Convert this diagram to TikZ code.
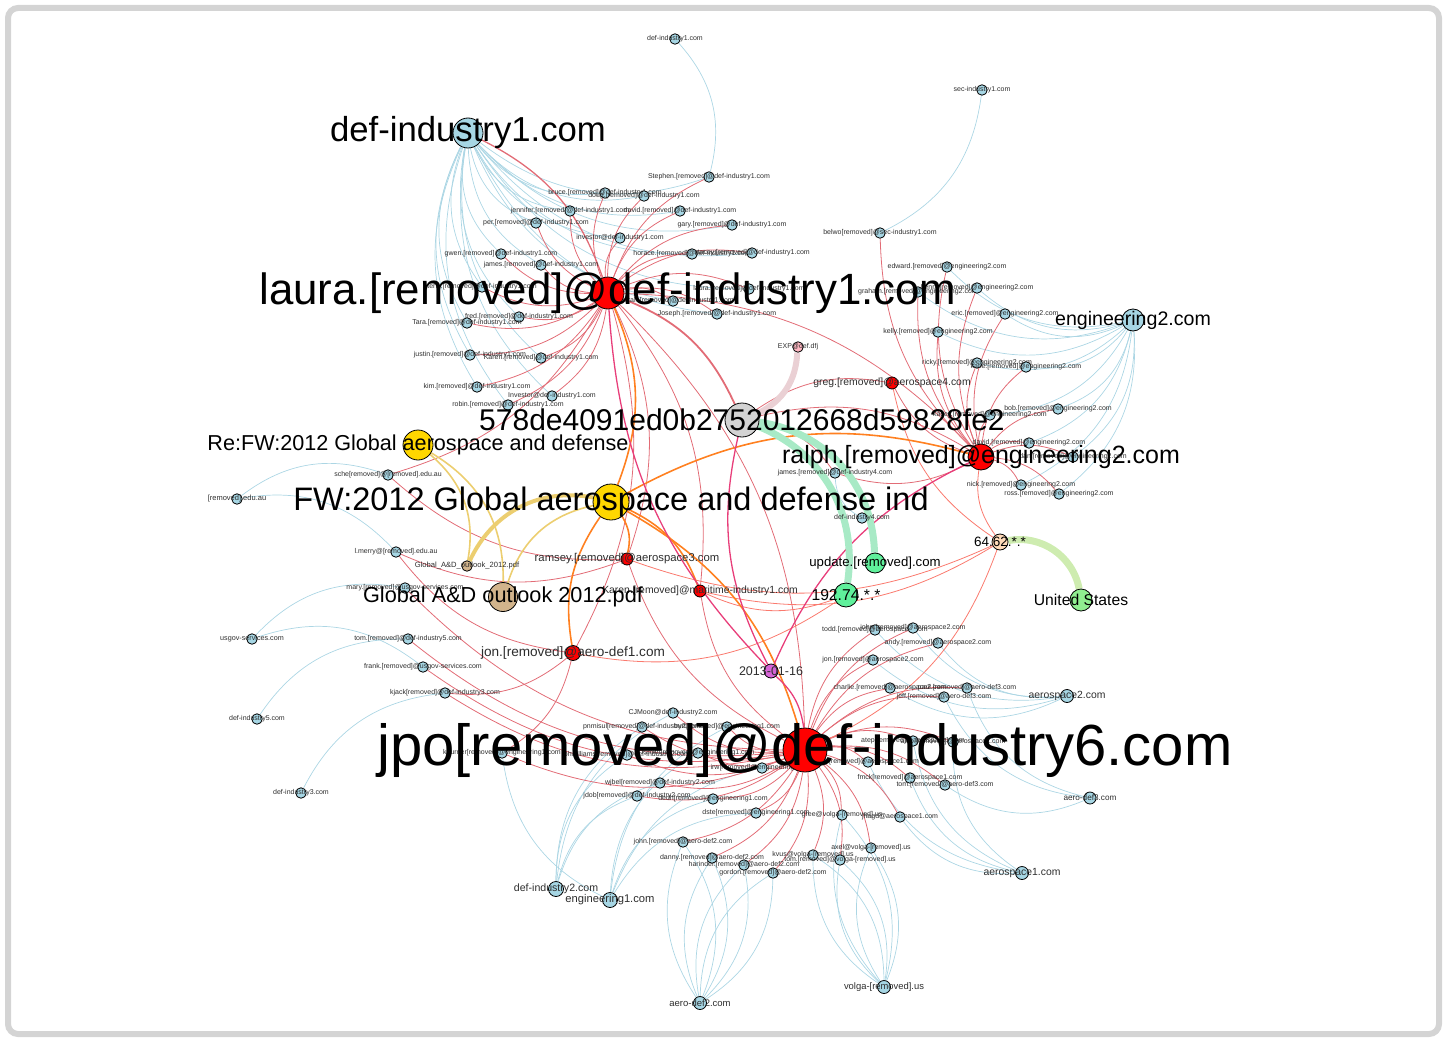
\documentclass[tikz,border=0pt]{standalone}
\usepackage{fontspec}
\setmainfont{Liberation Sans}
\usetikzlibrary{backgrounds}
\definecolor{nodeblue}{RGB}{166,214,228}
\definecolor{linkblue}{RGB}{172,214,228}
\definecolor{linkred}{RGB}{226,108,118}
\definecolor{linksalmon}{RGB}{250,122,110}
\definecolor{linkorange}{RGB}{255,128,32}
\definecolor{linkpink}{RGB}{232,62,122}
\definecolor{nodegold}{RGB}{255,215,0}
\definecolor{nodetan}{RGB}{210,180,140}
\definecolor{nodegray}{RGB}{211,211,211}
\definecolor{nodegreen}{RGB}{95,240,155}
\definecolor{nodelime}{RGB}{144,238,144}
\definecolor{nodepeach}{RGB}{255,218,185}
\definecolor{nodeorchid}{RGB}{214,100,214}
\definecolor{nodepink}{RGB}{255,182,193}
\definecolor{bandpink}{RGB}{234,208,212}
\definecolor{bandgreen}{RGB}{168,234,198}
\definecolor{bandlime}{RGB}{206,236,176}
\definecolor{bandgold}{RGB}{236,206,112}
\definecolor{framegray}{RGB}{212,212,212}
\definecolor{labelgray}{RGB}{45,45,45}
\begin{document}
\begin{tikzpicture}[x=1pt, y=-1pt,
vtx/.style={circle, draw=black, line width=0.8pt, inner sep=0pt, minimum size=10.5pt, fill=nodeblue},
lab/.style n args={2}{label={[font=\fontsize{#1}{#1}\selectfont, text=labelgray, inner sep=0pt]center:{#2}}},
big/.style n args={2}{label={[font=\fontsize{#1}{#1}\selectfont, text=black, inner sep=0pt]center:{#2}}},
mail/.style={vtx, lab={7}{#1}},
bluelink/.style={draw=linkblue, line width=0.7pt, bend left=28},
redlink/.style={draw=linkred, line width=0.8pt, bend left=22},
salmonlink/.style={draw=linksalmon, line width=0.8pt, bend left=22},
orangelink/.style={draw=linkorange, line width=1.6pt, bend left=22},
pinklink/.style={draw=linkpink, line width=1.3pt, bend left=20},
band/.style={line width=#1, bend left=30}]

\useasboundingbox (0,0) rectangle (1447,1038);

% def-industry1.com addresses
\node[mail={def-industry1.com}] (dtop) at (675,39) {};
\node[mail={Stephen.[removed]@def-industry1.com}] (stephen) at (709,177) {};
\node[mail={bruce.[removed]@def-industry1.com}] (bruce) at (605,193) {};
\node[mail={doug.[removed]@def-industry1.com}] (doug) at (644,196) {};
\node[mail={jennifer.[removed]@def-industry1.com}] (jennifer) at (570,211) {};
\node[mail={david.[removed]@def-industry1.com}] (david) at (680,211) {};
\node[mail={per.[removed]@def-industry1.com}] (per) at (536,223) {};
\node[mail={gary.[removed]@def-industry1.com}] (gary) at (732,225) {};
\node[mail={investor@def-industry1.com}] (investor) at (620,238) {};
\node[mail={horace.[removed]@def-industry1.com}] (horace) at (692,254) {};
\node[mail={stacey.[removed]@def-industry1.com}] (stacey) at (752,253) {};
\node[mail={gwen.[removed]@def-industry1.com}] (gwen) at (501,254) {};
\node[mail={james.[removed]@def-industry1.com}] (james) at (541,265) {};
\node[mail={terry.[removed]@def-industry1.com}] (terry) at (482,287) {};
\node[mail={laura.[removed]@def-industry1.com}] (laurasm) at (749,289) {};
\node[mail={deborah.[removed]@def-industry1.com}] (deborah) at (673,301) {};
\node[mail={Joseph.[removed]@def-industry1.com}] (joseph) at (717,314) {};
\node[mail={fred.[removed]@def-industry1.com}] (fred) at (519,317) {};
\node[mail={Tara.[removed]@def-industry1.com}] (tara) at (467,323) {};
\node[mail={justin.[removed]@def-industry1.com}] (justin) at (470,355) {};
\node[mail={Karen.[removed]@def-industry1.com}] (karenA) at (541,358) {};
\node[mail={kim.[removed]@def-industry1.com}] (kim) at (477,387) {};
\node[mail={Investor@def-industry1.com}] (investorB) at (552,396) {};
\node[mail={robin.[removed]@def-industry1.com}] (robin) at (508,405) {};

% sec-industry1.com
\node[mail={sec-industry1.com}] (sec) at (982,90) {};
\node[mail={belwo[removed]@sec-industry1.com}] (belwo) at (880,233) {};

% engineering2.com addresses
\node[mail={edward.[removed]@engineering2.com}] (edward) at (947,267) {};
\node[mail={graham.[removed]@engineering2.com}] (graham) at (918,292) {};
\node[mail={henry.[removed]@engineering2.com}] (henry) at (977,288) {};
\node[mail={eric.[removed]@engineering2.com}] (eric) at (1005,314) {};
\node[mail={kelly.[removed]@engineering2.com}] (kelly) at (938,332) {};
\node[mail={ricky.[removed]@engineering2.com}] (ricky) at (977,363) {};
\node[mail={katie.[removed]@engineering2.com}] (katie) at (1026,367) {};
\node[mail={bob.[removed]@engineering2.com}] (bob) at (1058,409) {};
\node[mail={kasey.[removed]@engineering2.com}] (kasey) at (990,415) {};
\node[mail={david.[removed]@engineering2.com}] (davidB) at (1029,443) {};
\node[mail={dan.[removed]@engineering2.com}] (dan) at (1073,457) {};
\node[mail={nick.[removed]@engineering2.com}] (nick) at (1021,485) {};
\node[mail={ross.[removed]@engineering2.com}] (ross) at (1059,494) {};

% left side
\node[mail={sche[removed]@[removed].edu.au}] (sche) at (388,475) {};
\node[vtx, lab={7.5}{[removed].edu.au}] (edu) at (237,499) {};
\node[mail={l.merry@[removed].edu.au}] (lmerry) at (396,552) {};
\node[mail={mary.[removed]@usgov-services.com}] (mary) at (405,588) {};
\node[vtx, lab={7.2}{usgov-services.com}] (usgov) at (252,639) {};
\node[mail={tom.[removed]@def-industry5.com}] (tomE) at (408,639) {};
\node[mail={frank.[removed]@usgov-services.com}] (frank) at (423,667) {};
\node[mail={kjack[removed]@def-industry3.com}] (kjack) at (445,693) {};
\node[mail={def-industry5.com}] (dfive) at (257,719) {};
\node[mail={def-industry3.com}] (dthree) at (301,793) {};

% middle
\node[mail={james.[removed]@def-industry4.com}] (jamesD) at (835,473) {};
\node[mail={def-industry4.com}] (dfour) at (862,518) {};
\node[mail={EXP@def.dfj}, fill=nodepink] (exp) at (798,347) {};
\node[vtx, lab={7.6}{Global\_A\&D\_outlook\_2012.pdf}, fill=nodetan] (globsm) at (467,566) {};

% aerospace / aero-def / volga / engineering1 / def-industry2 addresses
\node[mail={todd.[removed]@aerospace2.com}] (todd) at (875,630) {};
\node[mail={john.[removed]@aerospace2.com}] (johnB) at (913,628) {};
\node[mail={andy.[removed]@aerospace2.com}] (andy) at (938,643) {};
\node[mail={jon.[removed]@aerospace2.com}] (jonB) at (873,660) {};
\node[mail={charlie.[removed]@aerospace2.com}] (charlie) at (890,688) {};
\node[mail={paul.[removed]@aero-def3.com}] (paul) at (967,688) {};
\node[mail={jeff.[removed]@aero-def3.com}] (jeff) at (944,697) {};
\node[mail={atep[removed]@aerospace1.com}] (atep) at (913,741) {};
\node[mail={alex.[removed]@aerospace1.com}] (alex) at (953,742) {};
\node[mail={rob.[removed]@aerospace1.com}] (rob) at (868,762) {};
\node[mail={fmck[removed]@aerospace1.com}] (fmck) at (910,778) {};
\node[mail={tom.[removed]@aero-def3.com}] (tomC) at (945,785) {};
\node[mail={gree@volga-[removed].us}] (gree) at (842,815) {};
\node[mail={jhagd@aerospace1.com}] (jhagd) at (900,817) {};
\node[mail={axel@volga-[removed].us}] (axel) at (871,848) {};
\node[mail={kvus@volga-[removed].us}] (kvus) at (813,855) {};
\node[mail={tom.[removed]@volga-[removed].us}] (tomV) at (840,860) {};
\node[mail={gordon.[removed]@aero-def2.com}] (gordon) at (773,873) {};
\node[mail={harinder.[removed]@aero-def2.com}] (harinder) at (744,865) {};
\node[mail={danny.[removed]@aero-def2.com}] (danny) at (712,858) {};
\node[mail={john.[removed]@aero-def2.com}] (johnC) at (683,842) {};
\node[mail={CJMoon@def-industry2.com}] (cjmoon) at (673,713) {};
\node[mail={pnmisul[removed]@def-industry2.com}] (pnmisul) at (642,727) {};
\node[mail={burt[removed]@engineering1.com}] (burt) at (727,727) {};
\node[mail={kburner[removed]@engineering1.com}] (kburner) at (502,753) {};
\node[mail={phwilliams[removed]@def-industry2.com}] (phwill) at (627,755) {};
\node[mail={rsmith[removed]@engineering1.com}] (rsmith) at (698,753) {};
\node[mail={irw[removed]@engineering1.com}] (irw) at (762,768) {};
\node[mail={wjbel[removed]@def-industry2.com}] (wjbel) at (660,783) {};
\node[mail={jdob[removed]@def-industry2.com}] (jdob) at (637,796) {};
\node[mail={dedh[removed]@engineering1.com}] (dedh) at (713,799) {};
\node[mail={dste[removed]@engineering1.com}] (dste) at (756,813) {};

% domains of medium size
\node[vtx, minimum size=13pt, lab={10.4}{aerospace2.com}] (atwo) at (1067,696) {};
\node[vtx, minimum size=13pt, lab={10.4}{aerospace1.com}] (aone) at (1022,873) {};
\node[vtx, minimum size=12pt, lab={8.2}{aero-def3.com}] (adthree) at (1090,798) {};
\node[vtx, minimum size=13pt, lab={9.4}{volga-[removed].us}] (volga) at (884,987) {};
\node[vtx, minimum size=13pt, lab={9.5}{aero-def2.com}] (adtwo) at (700,1003) {};
\node[vtx, minimum size=15pt, lab={10.6}{def-industry2.com}] (dtwo) at (556,889) {};
\node[vtx, minimum size=15pt, lab={11.2}{engineering1.com}] (eone) at (610,900) {};

% senders, subjects, addresses and places
\node[vtx, fill=red, minimum size=12pt, lab={10.4}{greg.[removed]@aerospace4.com}] (greg) at (892,383) {};
\node[vtx, fill=red, minimum size=12pt, lab={10.4}{Karen.[removed]@maritime-industry1.com}] (karen) at (700,591) {};
\node[vtx, fill=red, minimum size=12pt, lab={11.3}{ramsey.[removed]@aerospace3.com}] (ramsey) at (627,559) {};
\node[vtx, fill=red, minimum size=15pt, lab={13.6}{jon.[removed]@aero-def1.com}] (jon) at (573,653) {};
\node[vtx, fill=nodeorchid, minimum size=14pt, lab={12.5}{2013-01-16}] (date) at (771,671) {};
\node[vtx, fill=nodepeach, minimum size=16pt, big={13.5}{64.62.*.*}] (ipsix) at (1000,542) {};
\node[vtx, fill=nodegreen, minimum size=20pt, big={13.2}{update.[removed].com}] (update) at (875,563) {};
\node[vtx, fill=nodegreen, minimum size=24pt, big={15.7}{192.74.*.*}] (ipnine) at (846,595) {};
\node[vtx, fill=nodelime, minimum size=22pt, big={15.7}{United States}] (us) at (1081,600) {};
\node[vtx, minimum size=22pt, big={19.6}{engineering2.com}] (etwo) at (1133,320) {};
\node[vtx, fill=red, minimum size=26pt, big={25}{ralph.[removed]@engineering2.com}] (ralph) at (981,457) {};
\node[vtx, fill=nodetan, minimum size=29pt, big={21.7}{Global A\&D outlook 2012.pdf}] (glob) at (503,597) {};
\node[vtx, fill=nodegold, minimum size=30pt, big={21.6}{Re:FW:2012 Global aerospace and defense}] (refw) at (418,445) {};
\node[vtx, minimum size=30pt, big={34.7}{def-industry1.com}] (done) at (468,133) {};
\node[vtx, fill=nodegold, minimum size=36pt, big={32.5}{FW:2012 Global aerospace and defense ind}] (fw) at (611,502) {};
\node[vtx, fill=nodegray, minimum size=34pt, big={30}{578de4091ed0b2752012668d59828fe2}] (hash) at (742,420) {};
\node[vtx, fill=red, minimum size=32pt, big={43.8}{laura.[removed]@def-industry1.com}] (laura) at (608,293) {};
\node[vtx, fill=red, minimum size=44pt, big={58}{jpo[removed]@def-industry6.com}] (jpo) at (805,750) {};

\begin{pgfonlayer}{background}
\draw[framegray, line width=6pt, rounded corners=10pt] (8,8) rectangle (1439,1034);
% domains to their addresses
\foreach \t in {stephen, bruce, doug, jennifer, david, per, gary, investor, horace, stacey, gwen, james, terry, laurasm, deborah, joseph, fred, tara, justin, karenA, kim, investorB, robin}
  \draw[bluelink] (\t) to (done);
\draw[bluelink] (dtop) to (stephen);
\draw[bluelink] (sec) to (belwo);
\foreach \t in {edward, graham, henry, eric, kelly, ricky, katie, bob, kasey, davidB, dan, nick, ross}
  \draw[bluelink] (etwo) to (\t);
\foreach \t in {sche, lmerry} \draw[bluelink] (edu) to (\t);
\foreach \t in {mary, frank} \draw[bluelink] (usgov) to (\t);
\draw[bluelink] (dfive) to (tomE);
\draw[bluelink] (dthree) to (kjack);
\draw[bluelink] (dfour) to (jamesD);
\foreach \t in {cjmoon, pnmisul, phwill, wjbel, jdob} \draw[bluelink] (dtwo) to (\t);
\foreach \t in {burt, kburner, rsmith, irw, dedh, dste} \draw[bluelink] (eone) to (\t);
\foreach \t in {johnC, danny, harinder, gordon} {\draw[bluelink] (adtwo) to (\t); \draw[bluelink] (\t) to (adtwo);}
\foreach \t in {kvus, tomV, axel, gree} {\draw[bluelink] (volga) to (\t); \draw[bluelink] (\t) to (volga);}
\foreach \t in {atep, alex, rob, fmck, jhagd} \draw[bluelink] (aone) to (\t);
\foreach \t in {paul, jeff, tomC} \draw[bluelink] (adthree) to (\t);
\foreach \t in {todd, johnB, andy, jonB, charlie} \draw[bluelink] (atwo) to (\t);
% senders to recipients
\foreach \t in {stephen, bruce, doug, jennifer, david, per, gary, investor, horace, stacey, gwen, james, terry, laurasm, deborah, joseph, fred, tara, justin, karenA, kim, investorB, robin, sche}
  \draw[redlink] (laura) to (\t);
\foreach \t in {edward, graham, henry, eric, kelly, ricky, katie, bob, kasey, davidB, dan, nick, ross, greg, belwo, jamesD}
  \draw[redlink] (ralph) to (\t);
\foreach \t in {cjmoon, pnmisul, burt, kburner, phwill, rsmith, irw, wjbel, jdob, dedh, dste, johnC, danny, harinder, gordon, kvus, tomV, axel, gree, jhagd, atep, alex, rob, fmck, tomC, paul, jeff, todd, johnB, andy, jonB, charlie, kjack, tomE, frank, mary, ramsey, karen}
  \draw[redlink] (jpo) to (\t);
\foreach \t in {kburner, lmerry, kjack} \draw[redlink] (jon) to (\t);
\foreach \t in {sche, lmerry} \draw[redlink] (ramsey) to (\t);
\foreach \t in {jpo, karen, ramsey, jon, ralph} \draw[redlink] (laura) to (\t);
\foreach \t in {greg, ralph, jamesD} \draw[redlink] (hash) to (\t);
\draw[redlink, line width=1.3pt] (done) to (laura);
\draw[redlink, line width=1.8pt] (laura) to (hash);
\foreach \t in {ralph, jpo, karen, ramsey, greg} \draw[salmonlink] (ipsix) to (\t);
\foreach \t in {karen, jon} \draw[salmonlink] (ipnine) to (\t);
% subject and date links
\draw[orangelink] (laura) to (fw);
\draw[orangelink] (jon) to (fw);
\foreach \t in {ralph, jpo, karen, ramsey} \draw[orangelink] (fw) to (\t);
\foreach \t in {laura, ralph, jpo, hash} \draw[pinklink] (date) to (\t);
% heavy links
\draw[band=6pt, draw=bandpink] (exp) to (hash);
\draw[band=7pt, draw=bandgreen, bend left=40] (hash) to (update);
\draw[band=7pt, draw=bandgreen, bend left=38] (hash) to (ipnine);
\draw[band=7pt, draw=bandlime, bend left=45] (ipsix) to (us);
\draw[band=4pt, draw=bandgold, bend left=38] (globsm) to (fw);
\draw[band=1.6pt, draw=bandgold] (refw) to (globsm);
\draw[band=1.6pt, draw=bandgold] (refw) to (glob);
\draw[band=1.6pt, draw=bandgold] (glob) to (fw);
\end{pgfonlayer}

\end{tikzpicture}
\end{document}
